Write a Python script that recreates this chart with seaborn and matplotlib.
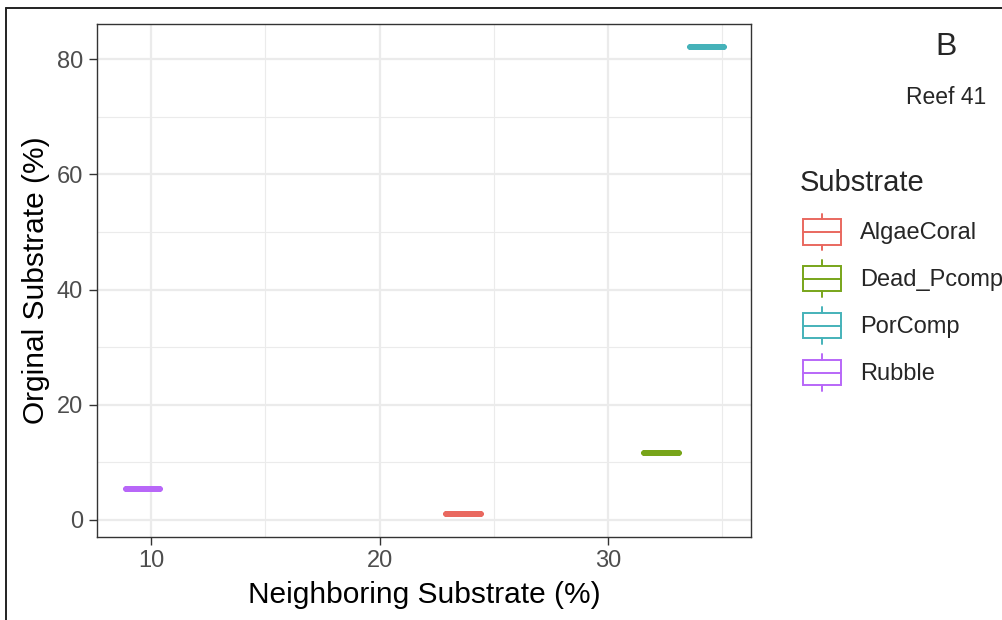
import matplotlib
matplotlib.use("Agg")
import matplotlib.pyplot as plt
import seaborn as sns
import pandas as pd
from matplotlib.patches import Patch, Rectangle
from matplotlib.lines import Line2D
from matplotlib.legend_handler import HandlerBase
from matplotlib.ticker import MultipleLocator

# values
substrates = ["AlgaeCoral", "Dead_Pcomp", "PorComp", "Rubble"]
neighboring = [23.68, 32.34, 34.34, 9.66]
original = [1.0, 11.6, 82.1, 5.3]
colors = ["#E9685F", "#78A51A", "#45B2B9", "#B867F8"]

df = pd.DataFrame({"Neighboring": neighboring, "Original": original, "Substrate": substrates})
palette = dict(zip(substrates, colors))


class BoxKeyHandler(HandlerBase):
    """legend key drawn as a small outlined box with whiskers, like ggplot"""

    def create_artists(self, legend, orig_handle, xdescent, ydescent, width, height, fontsize, trans):
        c = orig_handle.get_edgecolor()
        x0, y0 = -xdescent, -ydescent
        lo, hi = y0 + height * 0.16, y0 + height * 0.84
        mid = y0 + height / 2
        cx = x0 + width / 2
        lw = 1.4
        box = Rectangle((x0, lo), width, hi - lo, facecolor="none", edgecolor=c, lw=lw, transform=trans)
        med = Line2D([x0, x0 + width], [mid, mid], color=c, lw=lw, transform=trans)
        w1 = Line2D([cx, cx], [y0, lo], color=c, lw=lw, transform=trans)
        w2 = Line2D([cx, cx], [hi, y0 + height], color=c, lw=lw, transform=trans)
        return [box, med, w1, w2]


sns.set_theme(style="white")
plt.rcParams["font.family"] = ["Liberation Sans", "DejaVu Sans"]

fig = plt.figure(figsize=(10.03, 6.2), dpi=100)
ax = fig.add_axes([0.0964, 0.1344, 0.6524, 0.8269])

sns.boxplot(data=df, x="Neighboring", y="Original", hue="Substrate", palette=palette,
            native_scale=True, dodge=False, fill=False, width=0.75, linewidth=4.0,
            orient="x", legend=False, ax=ax)

ax.set_xlim(7.62, 36.26)
ax.set_ylim(-2.9, 86.1)
ax.xaxis.set_major_locator(MultipleLocator(10))
ax.xaxis.set_minor_locator(MultipleLocator(5))
ax.yaxis.set_major_locator(MultipleLocator(20))
ax.yaxis.set_minor_locator(MultipleLocator(10))
ax.set_axisbelow(True)
ax.grid(which="major", color="#EBEBEB", lw=1.6)
ax.grid(which="minor", color="#EBEBEB", lw=0.8)
for s in ax.spines.values():
    s.set_color("#333333")
    s.set_linewidth(1.0)
ax.tick_params(which="major", length=5.8, width=1.0, color="#333333", labelsize=17,
               labelcolor="#4D4D4D", pad=4, bottom=True, left=True)
ax.tick_params(which="minor", length=0)

ax.set_xlabel("Neighboring Substrate (%)", fontsize=21.5, color="black", labelpad=6)
ax.set_ylabel("Orginal Substrate (%)", fontsize=21.5, color="black", labelpad=5)

# legend title placed on its own so the gap to the keys matches ggplot
fig.text(800 / 1003, 1 - 183 / 620, "Substrate", fontsize=21, ha="left", va="center")
handles = [Patch(edgecolor=palette[s], facecolor="none", label=s) for s in substrates]
leg = fig.legend(handles=handles, labels=substrates, loc="upper left",
                 bbox_to_anchor=(803 / 1003, 1 - 213.5 / 620), frameon=False,
                 fontsize=17, handler_map={Patch: BoxKeyHandler()},
                 handlelength=1.61, handleheight=2.03, labelspacing=0.42, handletextpad=0.8,
                 borderpad=0, borderaxespad=0)

fig.text(946 / 1003, 1 - 47 / 620, "B", fontsize=23, ha="center", va="center")
fig.text(946 / 1003, 1 - 97 / 620, "Reef 41", fontsize=16.5, ha="center", va="center")

# screenshot frame across the top and down the left
fig.add_artist(Line2D([6 / 1003, 1.0], [1 - 8 / 620, 1 - 8 / 620], color="#222222", lw=1.4))
fig.add_artist(Line2D([6 / 1003, 6 / 1003], [0.0, 1 - 8 / 620], color="#222222", lw=1.4))

fig.savefig("out.png", dpi=100)
